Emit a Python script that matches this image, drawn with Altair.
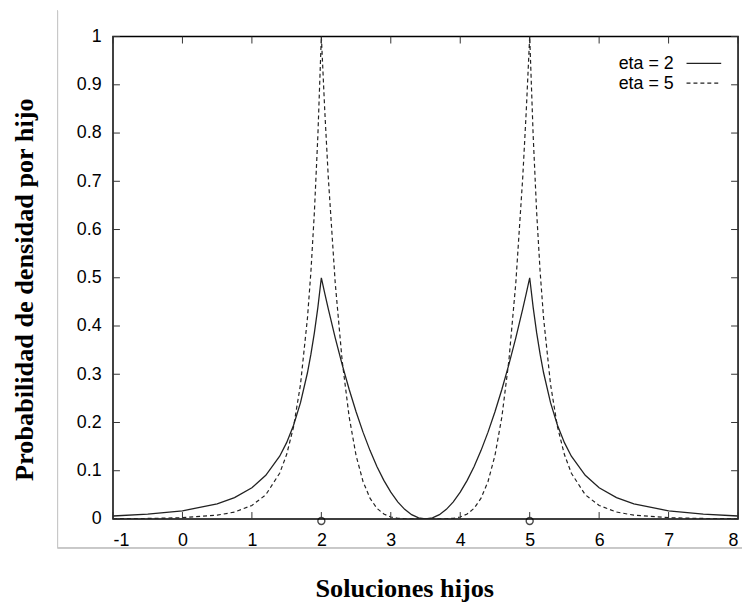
import altair as alt
import pandas as pd

# Child solutions (x) and density values
x_vals = [-1, -0.5, 0, 0.5, 0.75, 1, 1.2, 1.4, 1.5, 1.6, 1.7, 1.8, 1.85, 1.9, 1.95, 2,
          2.05, 2.1, 2.2, 2.3, 2.4, 2.5, 2.6, 2.7, 2.8, 2.9, 3.0, 3.1, 3.2, 3.3, 3.4, 3.5,
          3.6, 3.7, 3.8, 3.9, 4.0, 4.1, 4.2, 4.3, 4.4, 4.5, 4.6, 4.7, 4.8, 4.9, 4.95, 5,
          5.05, 5.1, 5.15, 5.2, 5.3, 5.4, 5.5, 5.6, 5.8, 6.0, 6.25, 6.5, 7.0, 7.5, 8.0]

eta2_vals = [0.00617, 0.00989, 0.01687, 0.03125, 0.04426, 0.0648, 0.09045, 0.13016, 0.1582,
             0.19423, 0.24113, 0.30307, 0.34151, 0.38622, 0.43855, 0.5, 0.46722, 0.43556,
             0.37556, 0.32, 0.26889, 0.22222, 0.18, 0.14222, 0.10889, 0.08, 0.05556, 0.035556,
             0.02, 0.008889, 0.002222, 0,
             0.002222, 0.008889, 0.02, 0.035556, 0.05556, 0.08, 0.10889, 0.14222, 0.18,
             0.22222, 0.26889, 0.32, 0.37556, 0.43556, 0.46722, 0.5, 0.43855, 0.38622,
             0.34151, 0.30307, 0.24113, 0.19423, 0.1582, 0.13016, 0.09045, 0.0648, 0.04426,
             0.03125, 0.01687, 0.00989, 0.00617]

eta5_vals = [0.000457, 0.00104, 0.002656, 0.0078125, 0.01437, 0.02799, 0.05018, 0.09487,
             0.13348, 0.19113, 0.27908, 0.41639, 0.51316, 0.63643, 0.79491, 1.0, 0.84408,
             0.70825, 0.48895, 0.32768, 0.21208, 0.13169, 0.07776, 0.043151, 0.022133,
             0.01024, 0.004115, 0.0013485, 0.00032, 0.0000421, 0.0000013, 0,
             0.0000013, 0.0000421, 0.00032, 0.0013485, 0.004115, 0.01024, 0.022133, 0.043151,
             0.07776, 0.13169, 0.21208, 0.32768, 0.48895, 0.70825, 0.84408, 1.0, 0.79491,
             0.63643, 0.51316, 0.41639, 0.27908, 0.19113, 0.13348, 0.09487, 0.05018, 0.02799,
             0.01437, 0.0078125, 0.002656, 0.00104, 0.000457]

parents_x = [2, 5]
x_ticks = [-1, 0, 1, 2, 3, 4, 5, 6, 7, 8]
y_ticks = [0, 0.1, 0.2, 0.3, 0.4, 0.5, 0.6, 0.7, 0.8, 0.9, 1]
legend_labels = ["eta = 2", "eta = 5"]

W, H = 631, 487

df = pd.DataFrame({"x": x_vals, "eta2": eta2_vals, "eta5": eta5_vals})
xs = alt.Scale(domain=[-1, 8], nice=False, zero=False)
ys = alt.Scale(domain=[0, 1], nice=False)

x_axis = alt.Axis(values=x_ticks, title="Soluciones hijos", labelExpr="'' + datum.value",
                  titleX=294, titleY=78, titleBaseline="alphabetic", titleAlign="center")
y_axis = alt.Axis(values=y_ticks, title="Probabilidad de densidad por hijo",
                  labelExpr="'' + datum.value",
                  titleX=-89, titleY=255, titleAlign="center", titleBaseline="middle",
                  titleAngle=-90)


def X(f):
    return alt.X(f, scale=xs, axis=x_axis)


def Y(f):
    return alt.Y(f, scale=ys, axis=y_axis)


base = alt.Chart(df)

line2 = base.mark_line(color="#222222", strokeWidth=1.3, clip=True).encode(
    x=X("x:Q"), y=Y("eta2:Q"))
line5 = base.mark_line(color="#222222", strokeWidth=1.2, strokeDash=[4, 3], clip=True).encode(
    x=X("x:Q"), y=Y("eta5:Q"))

pdf = pd.DataFrame({"px": parents_x, "py": [0] * len(parents_x)})
parents = alt.Chart(pdf).mark_point(shape="circle", filled=False, size=50, color="black",
                                    strokeWidth=1.4, yOffset=2).encode(
    x=X("px:Q"), y=Y("py:Q"))

xt = pd.DataFrame({"t": x_ticks})
yt = pd.DataFrame({"t": y_ticks})
tick_color = "#333333"
bot_ticks = alt.Chart(xt).mark_rule(color=tick_color, strokeWidth=1).encode(
    x=X("t:Q"), y=alt.value(H), y2=alt.value(H - 7))
top_ticks = alt.Chart(xt).mark_rule(color=tick_color, strokeWidth=1).encode(
    x=X("t:Q"), y=alt.value(0), y2=alt.value(7))
left_ticks = alt.Chart(yt).mark_rule(color=tick_color, strokeWidth=1).encode(
    y=Y("t:Q"), x=alt.value(0), x2=alt.value(7))
right_ticks = alt.Chart(yt).mark_rule(color=tick_color, strokeWidth=1).encode(
    y=Y("t:Q"), x=alt.value(W), x2=alt.value(W - 7))

# outer light-grey frame lines
frame_v = alt.Chart(xt).mark_rule(color="#c8c8c8", strokeWidth=1).encode(
    x=alt.value(-56), y=alt.value(-26), y2=alt.value(516))
frame_h = alt.Chart(xt).mark_rule(color="#c8c8c8", strokeWidth=1).encode(
    y=alt.value(516), x=alt.value(-56), x2=alt.value(640))

# legend
leg_layers = []
dashes = [[1, 0], [4, 3]]
for i, lab in enumerate(legend_labels):
    ldf = pd.DataFrame({"label": [lab]})
    leg_layers.append(alt.Chart(ldf).mark_text(
        align="right", baseline="middle", fontSize=18, font="Liberation Sans", color="black"
    ).encode(text="label:N", x=alt.value(566), y=alt.value(28 + 20 * i)))
    leg_layers.append(alt.Chart(ldf).mark_rule(
        color="#222222", strokeWidth=1.2, strokeDash=dashes[i]
    ).encode(x=alt.value(579), x2=alt.value(614), y=alt.value(27 + 20 * i)))

chart = alt.layer(
    line2, line5, parents, frame_v, frame_h,
    bot_ticks, top_ticks, left_ticks, right_ticks, *leg_layers
).properties(
    width=W, height=H,
    autosize=alt.AutoSizeParams(type="none"),
    padding={"left": 106, "top": 26, "right": 4, "bottom": 83},
).configure_view(
    stroke="black", strokeWidth=1.5
).configure_axis(
    domain=False, ticks=False, grid=False,
    labelFont="Liberation Sans", labelFontSize=18, labelColor="black",
    titleFont="Liberation Serif", titleFontSize=26.5, titleFontWeight="bold", titleColor="black",
).configure_axisY(
    labelPadding=12
).configure_axisX(
    labelPadding=13
)

chart.save("out.html", embed_options={"renderer": "svg", "actions": False})
